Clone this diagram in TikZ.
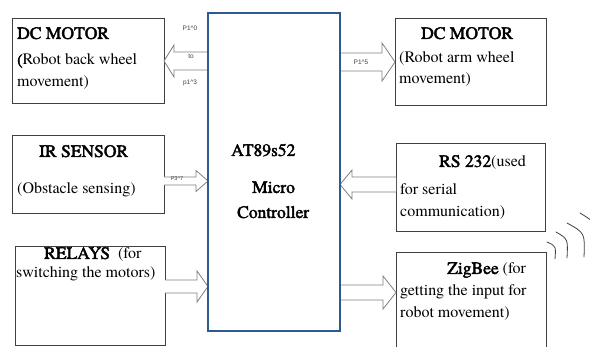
\documentclass[tikz,border=0pt]{standalone}
\usepackage{fontspec}
\usetikzlibrary{calc}
\newcommand{\tnr}{\IfFontExistsTF{texgyretermes-regular.otf}{\fontspec{texgyretermes-regular.otf}}{\fontspec{TeX Gyre Termes}}}
\newcommand{\tnrb}{\IfFontExistsTF{texgyretermes-regular.otf}{\fontspec{texgyretermes-regular.otf}[FakeBold=2.2]}{\fontspec{TeX Gyre Termes}[FakeBold=2.2]}}
\newcommand{\labfont}{\fontspec{Liberation Sans}}
\definecolor{mcblue}{HTML}{2F5A8F}
\definecolor{boxline}{HTML}{404040}
\definecolor{arrowline}{HTML}{808080}
\newcommand{\blkarrow}[5]{%
  \draw[blockarr] let \p1=#1, \p2=#2, \n1={sign(\x2-\x1)*#5} in
    (\x1,\y1+#3pt) -- (\x2-\n1*1pt,\y1+#3pt) -- (\x2-\n1*1pt,\y1+#4pt) -- (\x2,\y1)
    -- (\x2-\n1*1pt,\y1-#4pt) -- (\x2-\n1*1pt,\y1-#3pt) -- (\x1,\y1-#3pt);}
\newcommand{\bigb}[1]{{\tnrb\fontsize{17.5}{20}\selectfont #1}}
\begin{document}
\begin{tikzpicture}[x=1pt,y=-1pt,
  box/.style={draw=boxline,line width=0.9pt,fill=white,rectangle,inner sep=0pt,outer sep=0pt,anchor=north west},
  mcbox/.style={draw=mcblue,line width=1.8pt,fill=white,rectangle,inner sep=0pt,outer sep=0pt,anchor=north west},
  blockarr/.style={draw=arrowline,line width=0.8pt,fill=white,line join=miter},
  txt/.style={anchor=base west,inner sep=0pt,font=\fontsize{16}{19}\selectfont},
  btxt/.style={anchor=base west,inner sep=0pt,font=\fontsize{17.5}{20}\selectfont},
  lab/.style={inner sep=0pt,font=\fontsize{6.5}{8}\selectfont,text=black!75},
  wave/.style={draw=boxline,line width=0.8pt,line cap=round}]
\useasboundingbox (0,0) rectangle (590,347);
\fill[white] (0,0) rectangle (590,347);

% boxes
\node[box,minimum width=152pt,minimum height=85pt] (dcl) at (12,18) {};
\node[box,minimum width=152pt,minimum height=78pt] (ir) at (12,135) {};
\node[box,minimum width=150pt,minimum height=99pt] (relay) at (15,246) {};
\node[box,minimum width=151pt,minimum height=87pt] (dcr) at (395,18) {};
\node[box,minimum width=149pt,minimum height=88pt] (rs) at (396,143) {};
\node[box,minimum width=150pt,minimum height=104pt] (zig) at (396,252) {};

% arrow levels
\coordinate (ya) at (0,61);
\coordinate (yb) at (0,62);
\coordinate (yc) at (0,181);
\coordinate (yd) at (0,184.5);
\coordinate (ye) at (0,286.5);
\coordinate (yf) at (0,292.5);

% micro controller outline anchors
\node[inner sep=0pt,outer sep=0pt,minimum width=132pt,minimum height=318pt,anchor=north west] (micro) at (208,13) {};

% block arrows
\blkarrow{(micro.west |- ya)}{(dcl.east |- ya)}{9}{16}{10}
\blkarrow{(micro.east |- yb)}{(dcr.west |- yb)}{9}{19}{13}
\blkarrow{(ir.east |- yc)}{(micro.west |- yc)}{4}{10.5}{12}
\blkarrow{(rs.west |- yd)}{(micro.east |- yd)}{7.5}{14.5}{12}
\blkarrow{(relay.east |- ye)}{(micro.west |- ye)}{6.5}{15.5}{11}
\blkarrow{(micro.east |- yf)}{(zig.west |- yf)}{7.5}{16.5}{13}

\node[mcbox,minimum width=132pt,minimum height=318pt] (mc) at (208,13) {};

% texts
\node[btxt] (t1) at (17,39) {\tnrb DC MOTOR};
\node[txt] (t2) at (17,65) {{\tnrb(}\tnr Robot back wheel};
\node[txt] (t3) at (17,87) {\tnr movement)};

\node[btxt] (t4) at (421,39) {\tnrb DC MOTOR};
\node[txt] (t5) at (399,63) {\tnr (Robot arm wheel};
\node[txt] (t6) at (399,84) {\tnr movement)};

\node[btxt] (t7) at (39,157) {\tnrb IR SENSOR};
\node[txt] (t8) at (17,194) {\tnr (Obstacle sensing)};

\node[txt] (t9) at (439,167) {\bigb{RS 232}\tnr(used};
\node[txt] (t10) at (400,195) {\tnr for serial};
\node[txt] (t11) at (400,217) {\tnr communication)};

\node[txt] (t12) at (44,259) {\bigb{RELAYS}\tnr\ \ (for};
\node[txt] (t13) at (16,278) {\tnr switching the motors)};

\node[txt] (t14) at (447,274) {\bigb{ZigBee}\tnr\ (for};
\node[txt] (t15) at (400,296) {\tnr getting the input for};
\node[txt] (t16) at (400,318) {\tnr robot movement)};

\node[btxt] (t17) at (231,156) {\tnrb AT89s52};
\node[btxt] (t18) at (252,193) {\tnrb Micro};
\node[btxt] (t19) at (237,218) {\tnrb Controller};

% port labels
\node[lab] (p10) at (190,28) {\labfont P1\textasciicircum0};
\node[lab] (pto) at (191,56) {\labfont to};
\node[lab] (p13) at (190,83) {\labfont p1\textasciicircum3};
\node[lab] (p15) at (361,62) {\labfont P1\textasciicircum5};
\node[lab,font=\fontsize{5.5}{7}\selectfont] (p37) at (177,179) {\labfont P3\textasciicircum7};

% wireless waves
\draw[wave] (547,242) .. controls (556,246) .. (555,259);
\draw[wave] (556,232) .. controls (568,239) .. (567,258);
\draw[wave] (567,223) .. controls (585,233) .. (584,257);
\draw[wave] (580,213) .. controls (598,224) .. (600,256);
\end{tikzpicture}
\end{document}
